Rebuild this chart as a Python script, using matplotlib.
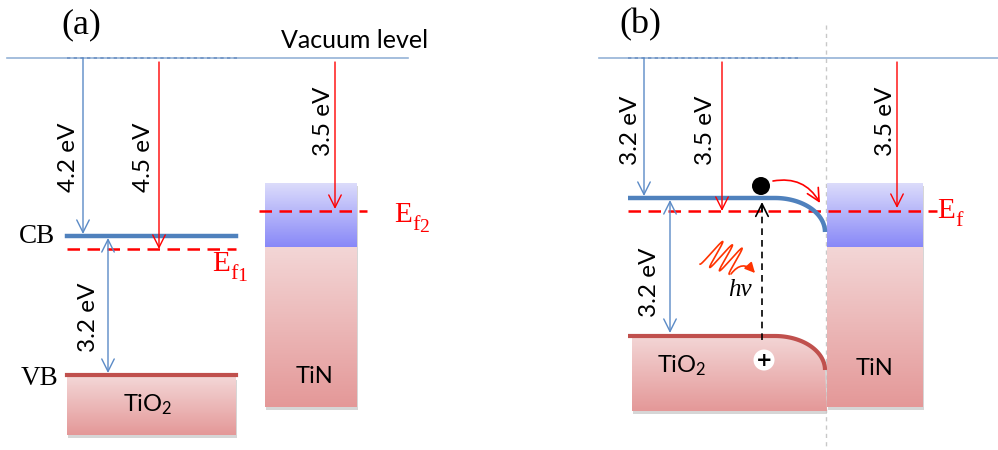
import numpy as np
import matplotlib
matplotlib.use('Agg')
import matplotlib.pyplot as plt
from matplotlib.patches import Rectangle, Circle, Polygon, FancyArrowPatch
from matplotlib.colors import LinearSegmentedColormap

plt.rcParams['mathtext.fontset'] = 'custom'
plt.rcParams['mathtext.rm'] = 'Liberation Serif'
plt.rcParams['mathtext.it'] = 'Liberation Serif:italic'
plt.rcParams['mathtext.sf'] = 'Lato'

# labels / values
panel_labels = ['(a)', '(b)']
gap_labels_a = ['4.2 eV', '4.5 eV', '3.5 eV', '3.2 eV']
gap_labels_b = ['3.2 eV', '3.5 eV', '3.5 eV', '3.2 eV']
fermi_subs = [('f', '1'), ('f', '2'), ('f', '')]
band_labels = ['CB', 'VB']
material_labels = [r'TiO$_\mathsf{2}$', 'TiN']

SANS = 'Lato'
SERIF = 'Liberation Serif'
BLUE = '#5a8ac6'
CB_BLUE = '#4f81bd'
VB_RED = '#c0504d'
VAC = '#95b3d7'
PINK = ('#f3d6d6', '#e49898')
LILAC = ('#dcdcfb', '#8888f8')

fig = plt.figure(figsize=(9.98, 4.5), dpi=100)
ax = fig.add_axes([0, 0, 1, 1])


def gradient(x0, x1, y0, y1, cols, clip=None, z=1):
    cmap = LinearSegmentedColormap.from_list('g', list(cols))
    g = np.linspace(0, 1, 256).reshape(-1, 1)
    im = ax.imshow(g, cmap=cmap, extent=(x0, x1, y1, y0), aspect='auto',
                   zorder=z, interpolation='bilinear')
    if clip is not None:
        ax.add_patch(clip)
        im.set_clip_path(clip)
    return im


def shadow(x0, x1, y0, y1):
    ax.add_patch(Rectangle((x0 + 1.5, y0 + 2.5), x1 - x0, y1 - y0,
                           fc='#8a8a8a', ec='none', alpha=0.35, zorder=0.5))


def arrow(p0, p1, color, style='->', lw=1.0, ls='-', rad=0.0, z=4, hl=0.9, hw=0.45):
    a = FancyArrowPatch(p0, p1, arrowstyle=f'{style},head_length={hl},head_width={hw}',
                        mutation_scale=10, color=color, lw=lw, ls=ls,
                        shrinkA=0, shrinkB=0, connectionstyle=f'arc3,rad={rad}',
                        zorder=z)
    ax.add_patch(a)


def vlabel(x, y, s):
    ax.text(x, y, s, rotation=90, ha='center', va='center', fontsize=17.5,
            family=SANS, zorder=6)


def fermi_label(x, y, sub, subsub):
    # E with a large subscript f and a further subscript digit
    ax.text(x, y, 'E', ha='left', va='baseline', fontsize=21, family=SERIF, color='red', zorder=6)
    ax.text(x + 18.5, y + 8, sub, ha='left', va='baseline', fontsize=16, family=SERIF,
            color='red', zorder=6)
    if subsub:
        ax.text(x + 25.5, y + 10, subsub, ha='left', va='baseline', fontsize=14,
                family=SERIF, color='red', zorder=6)


def bent_band(x0, xb, y0, dx, dy, n=40):
    t = np.linspace(0, np.pi / 2, n)
    xs = np.r_[x0, xb + dx * np.sin(t)]
    ys = np.r_[y0, y0 + dy - dy * np.cos(t)]
    return xs, ys


# ---------------- panel (a) ----------------
ax.text(81, 25, panel_labels[0], ha='center', va='center', fontsize=26, family=SERIF)
ax.plot([7, 408], [58, 58], color=VAC, lw=1.2, zorder=2)
ax.plot([67, 237], [58, 58], color='#6f93c4', lw=1.2, ls=(0, (2, 2)), zorder=2)
ax.text(428, 48, 'Vacuum level', ha='right', va='baseline', fontsize=18, family=SANS)

# TiO2 box
shadow(67, 236, 377, 435)
gradient(67, 236, 377, 435, PINK)
ax.plot([67, 236], [236, 236], color=CB_BLUE, lw=3.2, zorder=3)
ax.plot([67, 236], [375, 375], color=VB_RED, lw=3.0, zorder=3)
ax.plot([67, 236], [249, 249], color='red', lw=1.8, ls=(0, (5, 3)), zorder=3)
ax.text(37, 243, band_labels[0], ha='center', va='baseline', fontsize=19.5, family=SERIF)
ax.text(40, 385, band_labels[1], ha='center', va='baseline', fontsize=19.5, family=SERIF)
fermi_label(212, 271, *fermi_subs[0])
ax.text(148, 412, material_labels[0], ha='center', va='baseline', fontsize=17, family=SANS, zorder=6)

# TiN box
shadow(265, 357, 183, 407)
gradient(265, 357, 183, 247, LILAC)
gradient(265, 357, 247, 407, PINK)
ax.plot([259, 367], [211, 211], color='red', lw=1.8, ls=(0, (5, 3)), zorder=3)
fermi_label(394, 222, *fermi_subs[1])
ax.text(315, 383, material_labels[1], ha='center', va='baseline', fontsize=17, family=SANS, zorder=6)

arrow((83, 58), (83, 234), BLUE)
arrow((159, 62), (159, 249), 'red')
arrow((335, 62), (335, 209), 'red')
arrow((108, 238), (108, 373), BLUE, style='<->')
vlabel(69, 157, gap_labels_a[0])
vlabel(144, 157, gap_labels_a[1])
vlabel(324, 121, gap_labels_a[2])
vlabel(89, 317, gap_labels_a[3])

# ---------------- panel (b) ----------------
ax.text(640, 25, panel_labels[1], ha='center', va='center', fontsize=26, family=SERIF)
ax.plot([599, 998], [58, 58], color=VAC, lw=1.2, zorder=2)
ax.plot([628, 798], [58, 58], color='#6f93c4', lw=1.2, ls=(0, (2, 2)), zorder=2)
ax.plot([826, 826], [25, 450], color='#c8c8c8', lw=1.0, ls=(0, (3, 3)), zorder=0.8)

# TiO2 with band bending
vbx, vby = bent_band(628, 775, 336, 50, 34)
poly = np.column_stack([np.r_[632, vbx[1:], 827, 632], np.r_[338, vby[1:], 411, 411]])
shadow(632, 826, 360, 411)
gradient(632, 827, 336, 411, PINK,
         clip=Polygon(poly, closed=True, fc='none', ec='none', transform=ax.transData))
ax.plot(vbx, vby, color=VB_RED, lw=3.0, zorder=3, solid_capstyle='butt')
cbx, cby = bent_band(628, 775, 198, 50, 34)
ax.plot(cbx, cby, color=CB_BLUE, lw=3.2, zorder=3, solid_capstyle='butt')
ax.plot([628, 937], [211, 211], color='red', lw=1.8, ls=(0, (5, 3)), zorder=2.5)
fermi_label(937, 218, *fermi_subs[2])
ax.text(682, 373, material_labels[0], ha='center', va='baseline', fontsize=17, family=SANS, zorder=6)

# TiN
shadow(827, 923, 183, 407)
gradient(827, 923, 183, 247, LILAC)
gradient(827, 923, 247, 407, PINK)
ax.text(875, 375, material_labels[1], ha='center', va='baseline', fontsize=17, family=SANS, zorder=6)

arrow((644, 58), (644, 196), BLUE)
arrow((722, 62), (722, 211), 'red')
arrow((897, 62), (897, 208), 'red')
arrow((670, 200), (670, 333), BLUE, style='<->')
vlabel(631, 130, gap_labels_b[0])
vlabel(706, 130, gap_labels_b[1])
vlabel(886, 121, gap_labels_b[2])
vlabel(650, 282, gap_labels_b[3])

# electron / hole / photon
ax.plot([762, 762], [340, 206], color='black', lw=1.2, ls=(0, (4, 3)), zorder=4)
arrow((762, 212), (762, 202), 'black', lw=1.2)
ax.add_patch(Circle((761, 186), 9, fc='black', ec='none', zorder=5))
arrow((773, 181), (820, 203), 'red', lw=1.2, rad=-0.35)
ax.add_patch(Circle((764, 360), 10.5, fc='white', ec='none', zorder=5))
ax.text(764, 360, '+', ha='center', va='center', fontsize=14, fontweight='bold',
        family='DejaVu Sans', zorder=6)

t = np.linspace(0, 1, 300)
A = np.array([709, 252])
B = np.array([738, 262])
d = np.array([0.59, -0.81])
wave = A[None, :] + t[:, None] * (B - A)[None, :] - 15 * np.cos(2 * np.pi * 3 * t)[:, None] * d[None, :]
ax.plot(wave[:, 0], wave[:, 1], color='#ff3300', lw=1.2, zorder=4)
arrow((731, 274), (755, 273), '#ff3300', style='-|>', lw=1.2, rad=-0.6, hl=0.6, hw=0.3)
ax.text(740, 290, 'hν', ha='center', va='center', fontsize=18, family=SERIF,
        style='italic', zorder=6)

ax.set_xlim(0, 998)
ax.set_ylim(450, 0)
ax.axis('off')
fig.savefig('out.png', dpi=100)
